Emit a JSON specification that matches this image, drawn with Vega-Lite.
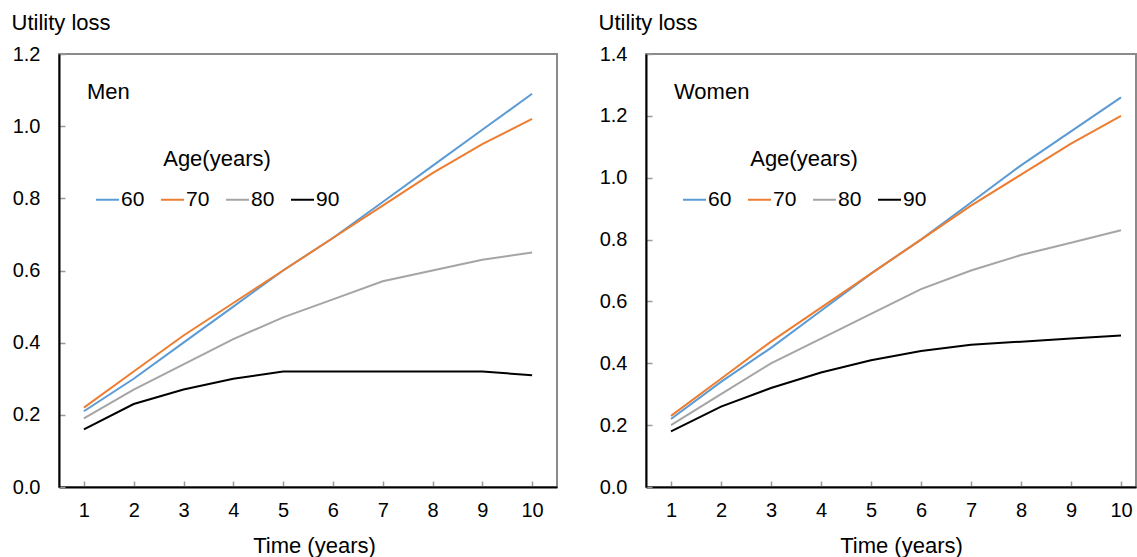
{
  "$schema": "https://vega.github.io/schema/vega-lite/v6.json",
  "background": "white",
  "padding": {"left": 10, "top": 10, "right": 0, "bottom": 0},
  "config": {
    "font": "Liberation Sans",
    "view": {"stroke": "#8a8a8a", "strokeWidth": 2},
    "axis": {
      "grid": false,
      "domainColor": "#000000",
      "domainWidth": 2,
      "tickColor": "#9a9a9a",
      "tickWidth": 1.5,
      "tickSize": -6,
      "labelFontSize": 20,
      "labelColor": "#000000",
      "titleFontSize": 22,
      "titleFontWeight": "normal",
      "titleColor": "#000000"
    },
    "axisX": {"labelPadding": 19, "labelAngle": 0, "titleX": 255, "titleY": 65, "titleBaseline": "alphabetic", "titleAlign": "center"},
    "axisY": {"labelPadding": 25, "titleAngle": 0, "titleX": -48, "titleY": -24.5, "titleAlign": "left", "titleBaseline": "alphabetic"},
    "legend": {
      "titleFontSize": 22,
      "titleFontWeight": "normal",
      "titleColor": "#000000",
      "titleAnchor": "middle",
      "titlePadding": 16,
      "labelFontSize": 21,
      "labelColor": "#000000",
      "labelOffset": 1,
      "symbolType": "stroke",
      "symbolSize": 529,
      "symbolStrokeWidth": 2,
      "columnPadding": 12
    }
  },
  "datasets": {
    "men": [
      {"age": "60", "t": 1, "loss": 0.21}, {"age": "60", "t": 2, "loss": 0.30}, {"age": "60", "t": 3, "loss": 0.40}, {"age": "60", "t": 4, "loss": 0.50}, {"age": "60", "t": 5, "loss": 0.60},
      {"age": "60", "t": 6, "loss": 0.69}, {"age": "60", "t": 7, "loss": 0.79}, {"age": "60", "t": 8, "loss": 0.89}, {"age": "60", "t": 9, "loss": 0.99}, {"age": "60", "t": 10, "loss": 1.09},
      {"age": "70", "t": 1, "loss": 0.22}, {"age": "70", "t": 2, "loss": 0.32}, {"age": "70", "t": 3, "loss": 0.42}, {"age": "70", "t": 4, "loss": 0.51}, {"age": "70", "t": 5, "loss": 0.60},
      {"age": "70", "t": 6, "loss": 0.69}, {"age": "70", "t": 7, "loss": 0.78}, {"age": "70", "t": 8, "loss": 0.87}, {"age": "70", "t": 9, "loss": 0.95}, {"age": "70", "t": 10, "loss": 1.02},
      {"age": "80", "t": 1, "loss": 0.19}, {"age": "80", "t": 2, "loss": 0.27}, {"age": "80", "t": 3, "loss": 0.34}, {"age": "80", "t": 4, "loss": 0.41}, {"age": "80", "t": 5, "loss": 0.47},
      {"age": "80", "t": 6, "loss": 0.52}, {"age": "80", "t": 7, "loss": 0.57}, {"age": "80", "t": 8, "loss": 0.60}, {"age": "80", "t": 9, "loss": 0.63}, {"age": "80", "t": 10, "loss": 0.65},
      {"age": "90", "t": 1, "loss": 0.16}, {"age": "90", "t": 2, "loss": 0.23}, {"age": "90", "t": 3, "loss": 0.27}, {"age": "90", "t": 4, "loss": 0.30}, {"age": "90", "t": 5, "loss": 0.32},
      {"age": "90", "t": 6, "loss": 0.32}, {"age": "90", "t": 7, "loss": 0.32}, {"age": "90", "t": 8, "loss": 0.32}, {"age": "90", "t": 9, "loss": 0.32}, {"age": "90", "t": 10, "loss": 0.31}
    ],
    "women": [
      {"age": "60", "t": 1, "loss": 0.22}, {"age": "60", "t": 2, "loss": 0.34}, {"age": "60", "t": 3, "loss": 0.45}, {"age": "60", "t": 4, "loss": 0.57}, {"age": "60", "t": 5, "loss": 0.69},
      {"age": "60", "t": 6, "loss": 0.80}, {"age": "60", "t": 7, "loss": 0.92}, {"age": "60", "t": 8, "loss": 1.04}, {"age": "60", "t": 9, "loss": 1.15}, {"age": "60", "t": 10, "loss": 1.26},
      {"age": "70", "t": 1, "loss": 0.23}, {"age": "70", "t": 2, "loss": 0.35}, {"age": "70", "t": 3, "loss": 0.47}, {"age": "70", "t": 4, "loss": 0.58}, {"age": "70", "t": 5, "loss": 0.69},
      {"age": "70", "t": 6, "loss": 0.80}, {"age": "70", "t": 7, "loss": 0.91}, {"age": "70", "t": 8, "loss": 1.01}, {"age": "70", "t": 9, "loss": 1.11}, {"age": "70", "t": 10, "loss": 1.20},
      {"age": "80", "t": 1, "loss": 0.20}, {"age": "80", "t": 2, "loss": 0.30}, {"age": "80", "t": 3, "loss": 0.40}, {"age": "80", "t": 4, "loss": 0.48}, {"age": "80", "t": 5, "loss": 0.56},
      {"age": "80", "t": 6, "loss": 0.64}, {"age": "80", "t": 7, "loss": 0.70}, {"age": "80", "t": 8, "loss": 0.75}, {"age": "80", "t": 9, "loss": 0.79}, {"age": "80", "t": 10, "loss": 0.83},
      {"age": "90", "t": 1, "loss": 0.18}, {"age": "90", "t": 2, "loss": 0.26}, {"age": "90", "t": 3, "loss": 0.32}, {"age": "90", "t": 4, "loss": 0.37}, {"age": "90", "t": 5, "loss": 0.41},
      {"age": "90", "t": 6, "loss": 0.44}, {"age": "90", "t": 7, "loss": 0.46}, {"age": "90", "t": 8, "loss": 0.47}, {"age": "90", "t": 9, "loss": 0.48}, {"age": "90", "t": 10, "loss": 0.49}
    ]
  },
  "spacing": 39,
  "resolve": {"scale": {"x": "independent", "y": "independent", "color": "independent"}, "legend": {"color": "independent"}},
  "hconcat": [
    {
      "width": 498,
      "height": 433,
      "layer": [
        {
          "data": {"name": "men"},
          "mark": {"type": "line", "strokeWidth": 2},
          "encoding": {
            "x": {"field": "t", "type": "quantitative", "scale": {"domain": [0.5, 10.5], "nice": false, "zero": false}, "axis": {"values": [1, 2, 3, 4, 5, 6, 7, 8, 9, 10], "title": "Time (years)"}},
            "y": {"field": "loss", "type": "quantitative", "scale": {"domain": [0, 1.2], "nice": false}, "axis": {"values": [0, 0.2, 0.4, 0.6, 0.8, 1.0, 1.2], "format": ".1f", "title": "Utility loss"}},
            "color": {"field": "age", "type": "nominal", "scale": {"domain": ["60", "70", "80", "90"], "range": ["#5B9BD5", "#ED7D31", "#A5A5A5", "#000000"]}, "legend": {"orient": "none", "legendX": 36, "legendY": 95, "direction": "horizontal", "title": "Age(years)"}}
          }
        },
        {
          "data": {"values": [{"label": "Men"}]},
          "mark": {"type": "text", "align": "left", "baseline": "alphabetic", "fontSize": 22, "dx": 3, "dy": 45, "color": "#000000"},
          "encoding": {"x": {"datum": 1}, "y": {"datum": 1.2}, "text": {"field": "label"}}
        }
      ]
    },
    {
      "width": 490,
      "height": 433,
      "layer": [
        {
          "data": {"name": "women"},
          "mark": {"type": "line", "strokeWidth": 2},
          "encoding": {
            "x": {"field": "t", "type": "quantitative", "scale": {"domain": [0.5, 10.3], "nice": false, "zero": false}, "axis": {"values": [1, 2, 3, 4, 5, 6, 7, 8, 9, 10], "title": "Time (years)"}},
            "y": {"field": "loss", "type": "quantitative", "scale": {"domain": [0, 1.4], "nice": false}, "axis": {"values": [0, 0.2, 0.4, 0.6, 0.8, 1.0, 1.2, 1.4], "format": ".1f", "title": "Utility loss"}},
            "color": {"field": "age", "type": "nominal", "scale": {"domain": ["60", "70", "80", "90"], "range": ["#5B9BD5", "#ED7D31", "#A5A5A5", "#000000"]}, "legend": {"orient": "none", "legendX": 36, "legendY": 95, "direction": "horizontal", "title": "Age(years)"}}
          }
        },
        {
          "data": {"values": [{"label": "Women"}]},
          "mark": {"type": "text", "align": "left", "baseline": "alphabetic", "fontSize": 22, "dx": 3, "dy": 45, "color": "#000000"},
          "encoding": {"x": {"datum": 1}, "y": {"datum": 1.4}, "text": {"field": "label"}}
        }
      ]
    }
  ]
}
